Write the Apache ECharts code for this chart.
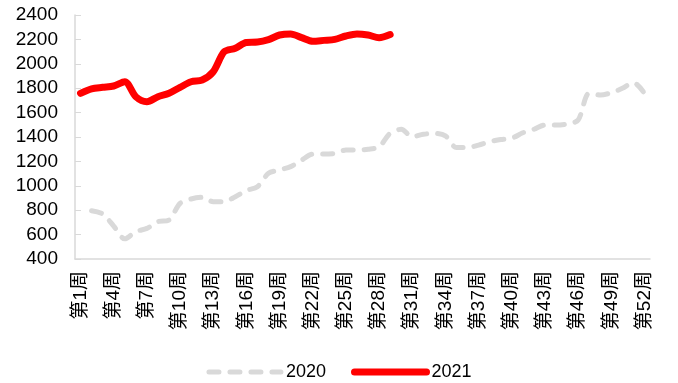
<!DOCTYPE html>
<html>
<head>
<meta charset="utf-8">
<script src="https://cdn.jsdelivr.net/npm/echarts@6/dist/echarts.min.js"></script>
<style>
  html, body { margin: 0; padding: 0; background: #fff; }
  #main { width: 678px; height: 383px; }
</style>
</head>
<body>
<div id="main"></div>
<script>
var weeks = [];
for (var i = 1; i <= 52; i++) weeks.push('第' + i + '周');

// 2020 has no value for week 1
var y2020 = [null, 796, 769, 670, 565, 624, 651, 706, 720, 856,
  892, 906, 870, 870, 911, 962, 993, 1102, 1130, 1157,
  1211, 1260, 1260, 1266, 1293, 1293, 1299, 1320, 1430, 1463,
  1402, 1422, 1430, 1410, 1313, 1313, 1334, 1361, 1380, 1390,
  1435, 1463, 1498, 1498, 1507, 1539, 1758, 1744, 1763, 1799,
  1846, 1758];

var y2021 = [1758, 1795, 1807, 1818, 1853, 1730, 1689, 1730, 1758, 1807,
  1853, 1867, 1935, 2099, 2127, 2175, 2178, 2198, 2236, 2245,
  2215, 2185, 2192, 2200, 2228, 2245, 2236, 2214, 2240];

var font = '"Liberation Sans", Arial, "Noto Sans CJK SC", sans-serif';

var myChart = echarts.init(document.getElementById('main'));

var gray = '#d9d9d9';
var red = '#ff0000';

var option = {
  animation: false,
  textStyle: { fontFamily: font },
  grid: { left: 75, right: 28, top: 15, bottom: 124, containLabel: false },
  legend: {
    top: 358,
    left: 'center',
    itemWidth: 72,
    itemHeight: 22,
    itemGap: 25,
    itemStyle: { opacity: 0 },
    textStyle: { fontSize: 18, color: '#000', fontFamily: font },
    data: [
      { name: '2020', lineStyle: { width: 5, type: [10, 11], cap: 'round', color: gray } },
      { name: '2021', lineStyle: { width: 7, cap: 'round', color: red } }
    ]
  },
  xAxis: {
    type: 'category',
    data: weeks,
    boundaryGap: true,
    axisLine: { lineStyle: { color: gray, width: 1.5 } },
    axisTick: { inside: true, length: 5, interval: 0, lineStyle: { color: gray } },
    axisLabel: {
      interval: 2,
      rotate: 90,
      margin: 12,
      fontSize: 19,
      color: '#000',
      fontFamily: font
    }
  },
  yAxis: {
    type: 'value',
    min: 400,
    max: 2400,
    interval: 200,
    splitLine: { show: false },
    axisLine: { show: true, lineStyle: { color: gray, width: 1.5 } },
    axisTick: { show: true, inside: true, length: 6, lineStyle: { color: gray } },
    axisLabel: {
      fontSize: 19, color: '#000', margin: 17, fontFamily: font,
      formatter: function (v) { return String(v); }
    }
  },
  series: [
    {
      name: '2020',
      type: 'line',
      data: y2020,
      showSymbol: false,
      symbol: 'none',
      smooth: 0.3,
      connectNulls: false,
      itemStyle: { color: gray },
      lineStyle: { color: gray, width: 5, type: [10, 11], cap: 'round', join: 'round' }
    },
    {
      name: '2021',
      type: 'line',
      data: y2021,
      showSymbol: false,
      symbol: 'none',
      smooth: 0.3,
      itemStyle: { color: red },
      lineStyle: { color: red, width: 7, cap: 'round', join: 'round' }
    }
  ]
};

myChart.setOption(option);
</script>
</body>
</html>
